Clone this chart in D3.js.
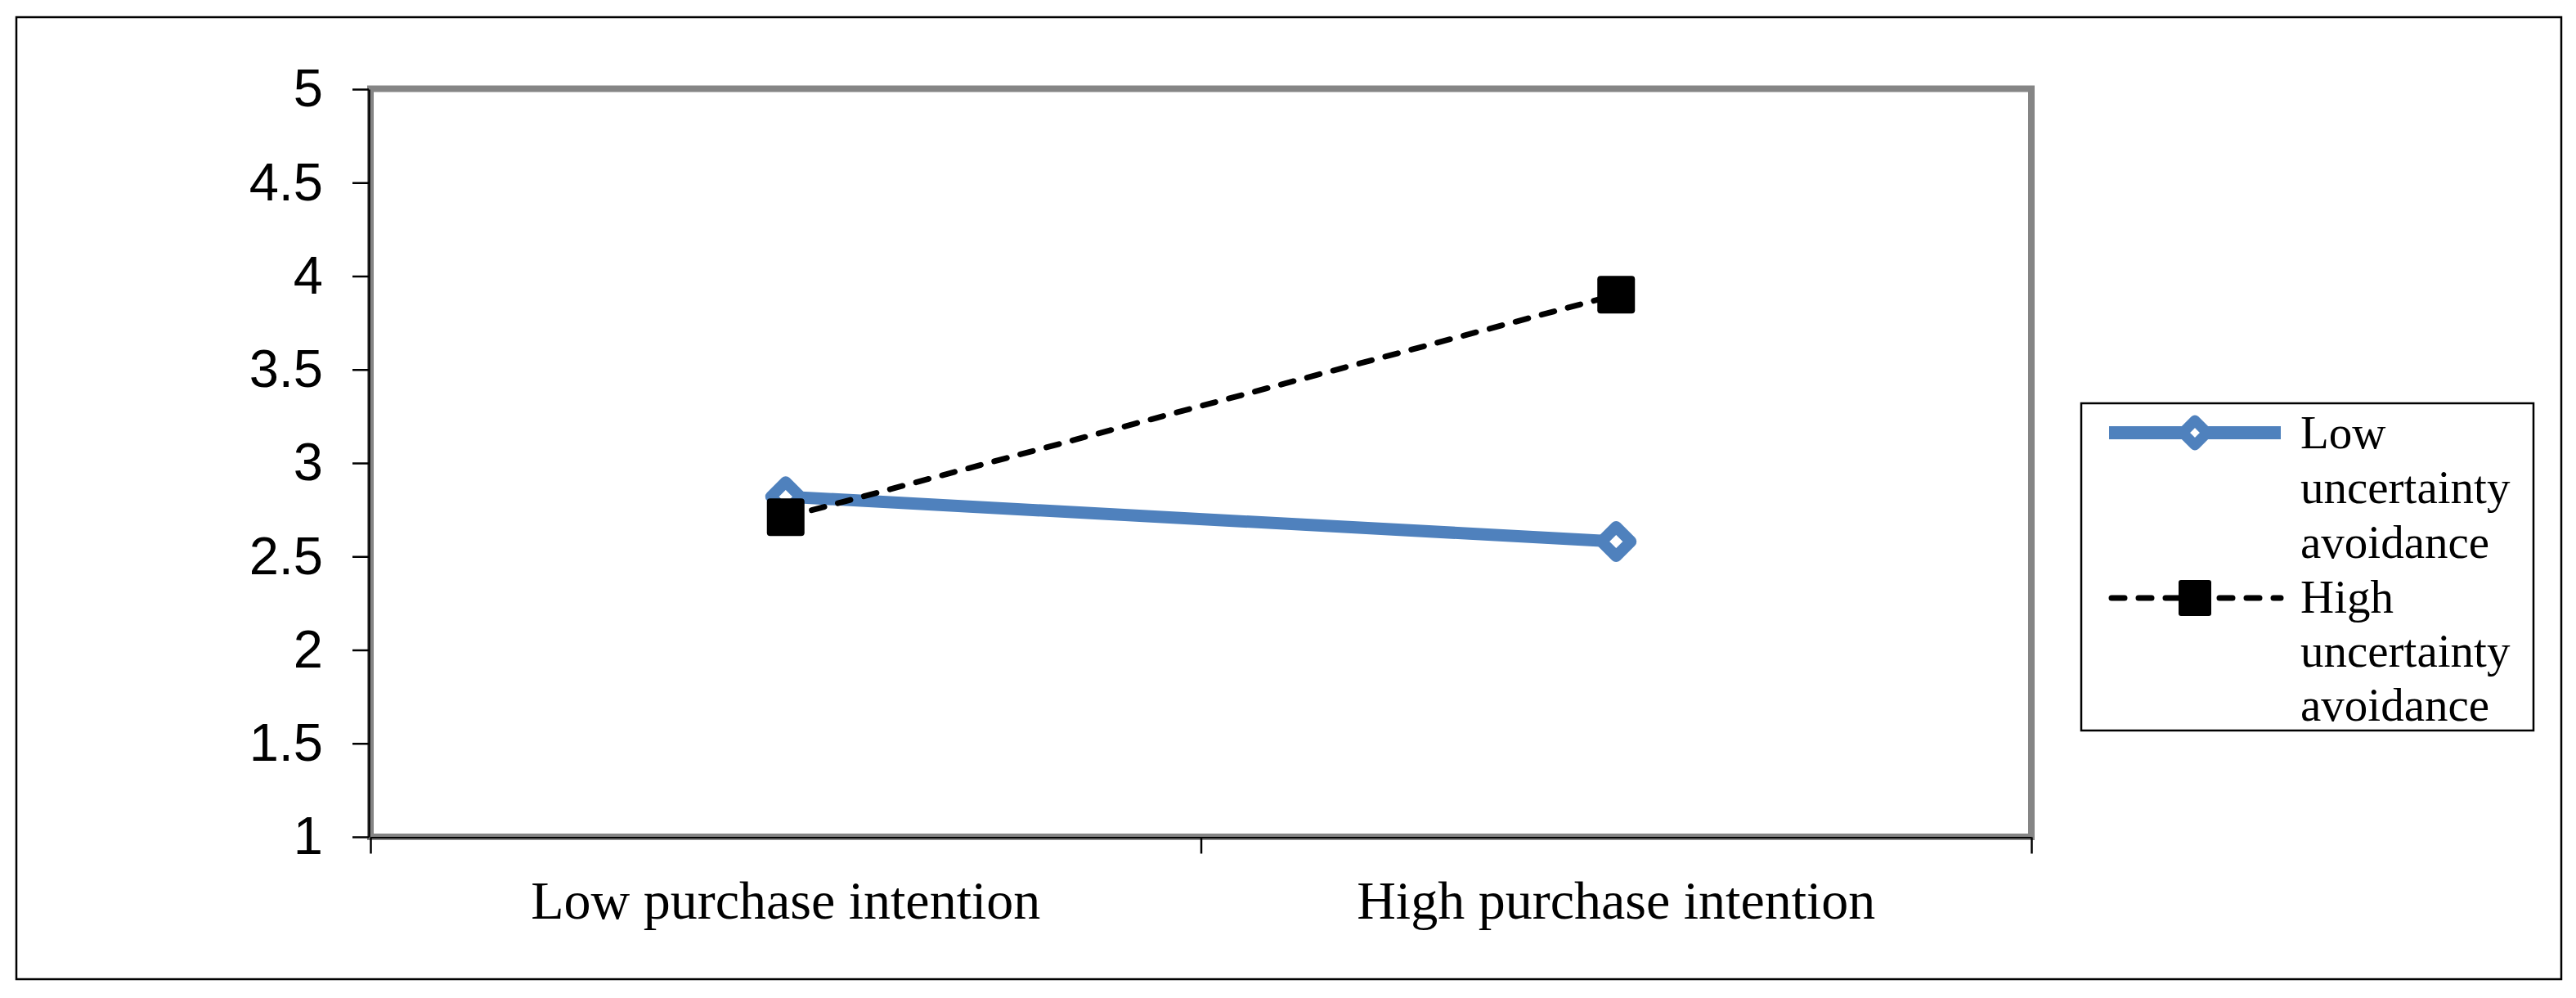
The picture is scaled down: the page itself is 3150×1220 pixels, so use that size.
<!DOCTYPE html>
<html>
<head>
<meta charset="utf-8">
<script src="https://cdn.jsdelivr.net/npm/d3@7"></script>
<style>
  html, body { margin: 0; padding: 0; background: #ffffff; }
  svg { display: block; }
</style>
</head>
<body>
<svg id="chart" width="3150" height="1220"></svg>
<script>
// ---- data ----
const categories = ["Low purchase intention", "High purchase intention"];
const seriesNames = ["Low uncertainty avoidance", "High uncertainty avoidance"];
const lowUA = [2.82, 2.58];
const highUA = [2.71, 3.90];
const yTicks = [1, 1.5, 2, 2.5, 3, 3.5, 4, 4.5, 5];
const yTickLabels = ["1", "1.5", "2", "2.5", "3", "3.5", "4", "4.5", "5"];
const legendLines = [["Low", "uncertainty", "avoidance"], ["High", "uncertainty", "avoidance"]];

// ---- layout ----
const W = 3150, H = 1220;
const plot = { left: 453, right: 2484, top: 109, bottom: 1023 };
const blue = "#4F81BD";
const sans = "'Liberation Sans', Arial, sans-serif";
const serif = "'Liberation Serif', 'Times New Roman', serif";

const svg = d3.select("#chart");
svg.append("rect").attr("x", 0).attr("y", 0).attr("width", W).attr("height", H).attr("fill", "#fff");

// outer border
svg.append("rect")
  .attr("x", 20).attr("y", 21).attr("width", 3112 - 0).attr("height", 1176)
  .attr("fill", "none").attr("stroke", "#000").attr("stroke-width", 2.5);

const x = d3.scaleBand().domain(categories).range([plot.left, plot.right]).padding(0);
const xEdge = d3.scaleLinear().domain([0, categories.length]).range([plot.left, plot.right]);
const y = d3.scaleLinear().domain([1, 5]).range([plot.bottom, plot.top]);

// plot area border (gray)
svg.append("rect")
  .attr("x", plot.left).attr("y", plot.top - 0.5)
  .attr("width", plot.right - plot.left).attr("height", plot.bottom - plot.top + 0.5)
  .attr("fill", "none").attr("stroke", "#858585").attr("stroke-width", 8);

// y axis
const yAxis = d3.axisLeft(y)
  .tickValues(yTicks)
  .tickFormat((d, i) => yTickLabels[i])
  .tickSize(20).tickSizeOuter(0).tickPadding(36);
const gy = svg.append("g").attr("transform", `translate(${plot.left - 2},0)`).call(yAxis);
gy.select(".domain").attr("stroke", "#000").attr("stroke-width", 2.5);
gy.selectAll(".tick line").attr("stroke", "#000").attr("stroke-width", 2.5);
gy.selectAll(".tick text").attr("fill", "#000").style("font-family", sans).style("font-size", "65px");

// x axis edges (ticks at category boundaries)
const xEdgeAxis = d3.axisBottom(xEdge)
  .tickValues(d3.range(categories.length + 1))
  .tickFormat("")
  .tickSize(20).tickSizeOuter(0);
const gxe = svg.append("g").attr("transform", `translate(0,${plot.bottom + 0.5})`).call(xEdgeAxis);
gxe.select(".domain").attr("stroke", "#000").attr("stroke-width", 2.2);
gxe.selectAll(".tick line").attr("stroke", "#000").attr("stroke-width", 2.5);

// x axis labels
const xAxis = d3.axisBottom(x).tickSize(0).tickPadding(53);
const gx = svg.append("g").attr("transform", `translate(0,${plot.bottom})`).call(xAxis);
gx.select(".domain").remove();
gx.selectAll(".tick text").attr("fill", "#000").style("font-family", serif).style("font-size", "66px");

// ---- series ----
const cx = c => x(c) + x.bandwidth() / 2;
const line = d3.line().x(d => cx(d.c)).y(d => y(d.v));
const diamondPath = (r) => `M0,${-r}L${r},0L0,${r}L${-r},0Z`;

function drawLow(g, pts) {
  g.append("path").datum(pts).attr("d", line)
    .attr("fill", "none").attr("stroke", blue).attr("stroke-width", 15).attr("stroke-linejoin", "round");
  g.selectAll("path.mk").data(pts).join("path").attr("class", "mk")
    .attr("transform", d => `translate(${cx(d.c)},${y(d.v)})`)
    .attr("d", diamondPath(18))
    .attr("fill", "#fff").attr("stroke", blue).attr("stroke-width", 14).attr("stroke-linejoin", "round");
}
function drawHigh(g, pts) {
  g.append("path").datum(pts).attr("d", line)
    .attr("fill", "none").attr("stroke", "#000").attr("stroke-width", 7)
    .attr("stroke-dasharray", "16 17").attr("stroke-linecap", "round");
  g.selectAll("rect.mk").data(pts).join("rect").attr("class", "mk")
    .attr("x", d => cx(d.c) - 23).attr("y", d => y(d.v) - 23)
    .attr("width", 46).attr("height", 46).attr("rx", 4)
    .attr("fill", "#000");
}
const lowPts = categories.map((c, i) => ({ c, v: lowUA[i] }));
const highPts = categories.map((c, i) => ({ c, v: highUA[i] }));
drawLow(svg.append("g"), lowPts);
drawHigh(svg.append("g"), highPts);

// ---- legend ----
const lg = svg.append("g");
lg.append("rect").attr("x", 2545).attr("y", 493).attr("width", 553).attr("height", 400)
  .attr("fill", "#fff").attr("stroke", "#000").attr("stroke-width", 2.5);
const rowY = [529, 731];
// low UA sample
lg.append("line").attr("x1", 2579).attr("x2", 2789).attr("y1", rowY[0]).attr("y2", rowY[0])
  .attr("stroke", blue).attr("stroke-width", 16);
lg.append("path").attr("transform", `translate(2684,${rowY[0]})`).attr("d", diamondPath(15))
  .attr("fill", "#fff").attr("stroke", blue).attr("stroke-width", 13).attr("stroke-linejoin", "round");
// high UA sample
lg.append("line").attr("x1", 2582).attr("x2", 2789).attr("y1", rowY[1]).attr("y2", rowY[1])
  .attr("stroke", "#000").attr("stroke-width", 7).attr("stroke-dasharray", "16 17").attr("stroke-linecap", "round");
lg.append("rect").attr("x", 2684 - 20).attr("y", rowY[1] - 22).attr("width", 40).attr("height", 44)
  .attr("rx", 3).attr("fill", "#000");
// legend text
const baselines = [[548, 615, 682], [749, 815, 881]];
legendLines.forEach((lines, s) => {
  const t = lg.append("text").attr("fill", "#000").style("font-family", serif).style("font-size", "57px");
  lines.forEach((ln, k) => {
    t.append("tspan").attr("x", 2813).attr("y", baselines[s][k]).text(ln);
  });
});
</script>
</body>
</html>
